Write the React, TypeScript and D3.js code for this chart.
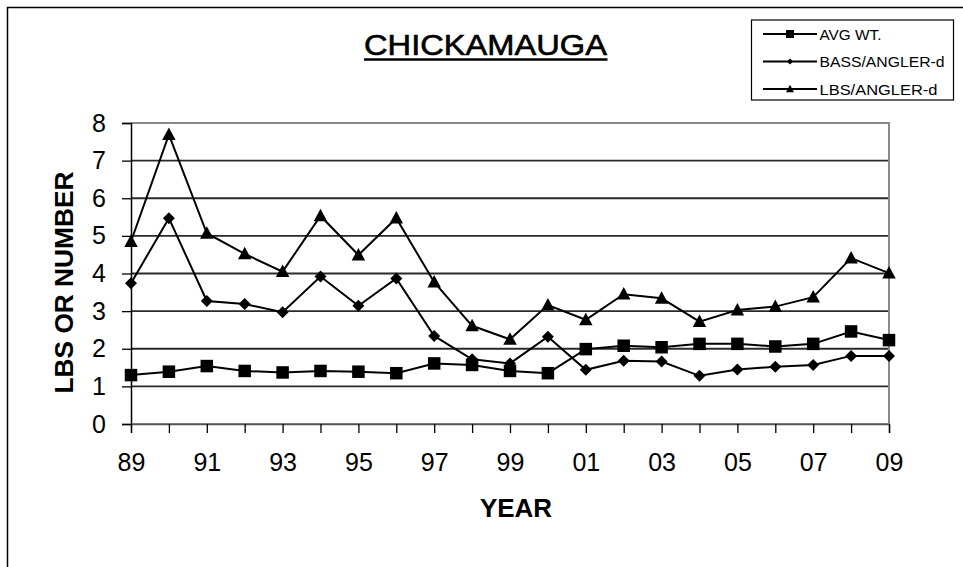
import React, { useEffect, useRef } from "react";
import * as d3 from "d3";

const years = ["89","90","91","92","93","94","95","96","97","98","99","00","01","02","03","04","05","06","07","08","09"];
const avgWt = [1.30,1.39,1.54,1.41,1.37,1.41,1.39,1.35,1.61,1.57,1.41,1.35,1.99,2.08,2.04,2.13,2.13,2.06,2.13,2.46,2.23];
const bassPerAngler = [3.74,5.47,3.27,3.19,2.97,3.92,3.14,3.87,2.34,1.72,1.61,2.32,1.44,1.68,1.66,1.28,1.45,1.52,1.57,1.81,1.81];
const lbsPerAngler = [4.85,7.69,5.07,4.52,4.05,5.53,4.49,5.47,3.77,2.61,2.25,3.16,2.77,3.45,3.34,2.72,3.03,3.12,3.37,4.41,4.01];
const yTicks = [0,1,2,3,4,5,6,7,8];
const xLabelYears = ["89","91","93","95","97","99","01","03","05","07","09"];
const seriesNames = ["AVG WT.", "BASS/ANGLER-d", "LBS/ANGLER-d"];
const seriesMarkers = ["square", "diamond", "triangle"];

const W = 963, H = 567;
const M = { left: 131, right: 889, top: 123, bottom: 424 };

export default function App() {
  const ref = useRef<SVGSVGElement>(null);
  useEffect(() => {
    const svg = d3.select(ref.current);
    svg.selectAll("*").remove();
    const font = "Arial, 'Liberation Sans', sans-serif";

    const x = d3.scalePoint<string>().domain(years).range([M.left, M.right]);
    const y = d3.scaleLinear().domain([0, 8]).range([M.bottom, M.top]);

    svg.append("rect").attr("width", W).attr("height", H).attr("fill", "#fff");
    svg.append("path").attr("d", `M7.5,${H} V7.5 H${W}`).attr("fill", "none").attr("stroke", "#000").attr("stroke-width", 1.5);

    svg.append("text").attr("x", 485.5).attr("y", 55).attr("text-anchor", "middle")
      .attr("font-family", font).attr("font-size", 29).attr("fill", "#000")
      .attr("stroke", "#000").attr("stroke-width", 0.6)
      .attr("textLength", 243).attr("lengthAdjust", "spacingAndGlyphs").text("CHICKAMAUGA");
    svg.append("line").attr("x1", 364).attr("x2", 607.5).attr("y1", 59.5).attr("y2", 59.5)
      .attr("stroke", "#000").attr("stroke-width", 2.5);

    yTicks.filter(t => t > 0 && t < 8).forEach(t => {
      svg.append("line").attr("x1", M.left).attr("x2", M.right).attr("y1", y(t)).attr("y2", y(t))
        .attr("stroke", "#2a2a2a").attr("stroke-width", 1.8);
    });
    svg.append("path").attr("d", `M${M.left},${y(8)} H${M.right} V${y(0)} H${M.left}`)
      .attr("fill", "none").attr("stroke", "#8a8a8a").attr("stroke-width", 2);

    const yAxis = d3.axisLeft(y).tickValues(yTicks).tickSize(9).tickPadding(16).tickFormat(d3.format("d"));
    const gy = svg.append("g").attr("transform", `translate(${M.left},0)`).call(yAxis);
    gy.select(".domain").attr("stroke", "#000").attr("stroke-width", 1.5);
    gy.selectAll(".tick line").attr("stroke", "#000").attr("stroke-width", 1.3);
    gy.selectAll(".tick text").attr("font-family", font).attr("font-size", 25).attr("fill", "#000");

    const xAxis = d3.axisBottom(x).tickSize(9).tickPadding(20)
      .tickFormat(d => (xLabelYears.includes(d) ? d : ""));
    const gx = svg.append("g").attr("transform", `translate(0,${M.bottom})`).call(xAxis);
    gx.select(".domain").attr("stroke", "#555").attr("stroke-width", 1.5);
    gx.selectAll(".tick line").attr("stroke", "#000").attr("stroke-width", 1.3);
    gx.selectAll(".tick text").attr("font-family", font).attr("font-size", 25).attr("fill", "#000");

    svg.append("text").attr("x", 516).attr("y", 517).attr("text-anchor", "middle")
      .attr("font-family", font).attr("font-weight", "bold").attr("font-size", 26).attr("fill", "#000").text("YEAR");
    svg.append("text").attr("transform", `translate(73,282.5) rotate(-90)`).attr("text-anchor", "middle")
      .attr("font-family", font).attr("font-weight", "bold").attr("font-size", 25).attr("fill", "#000")
      .attr("textLength", 222).attr("lengthAdjust", "spacingAndGlyphs").text("LBS OR NUMBER");

    const drawMarker = (g: any, kind: string, cx: number, cy: number, s: number) => {
      if (kind === "square") {
        g.append("rect").attr("x", cx - s / 2).attr("y", cy - s / 2).attr("width", s).attr("height", s).attr("fill", "#000");
      } else if (kind === "diamond") {
        const r = s / 2;
        g.append("path").attr("d", `M${cx},${cy - r} L${cx + r},${cy} L${cx},${cy + r} L${cx - r},${cy} Z`).attr("fill", "#000");
      } else {
        const r = s / 2;
        g.append("path").attr("d", `M${cx},${cy - r * 1.05} L${cx + r},${cy + r * 0.8} L${cx - r},${cy + r * 0.8} Z`).attr("fill", "#000");
      }
    };

    const allSeries = [avgWt, bassPerAngler, lbsPerAngler];
    const sizes = [12.5, 12, 13.5];
    const line = d3.line<number>().x((_, i) => x(years[i])!).y(d => y(d));
    allSeries.forEach((vals) => {
      svg.append("path").attr("d", line(vals)!).attr("fill", "none").attr("stroke", "#000").attr("stroke-width", 2);
    });
    allSeries.forEach((vals, si) => {
      const g = svg.append("g");
      vals.forEach((v, i) => drawMarker(g, seriesMarkers[si], x(years[i])!, y(v), sizes[si]));
    });

    svg.append("rect").attr("x", 751.5).attr("y", 20).attr("width", 202).attr("height", 80)
      .attr("fill", "#fff").attr("stroke", "#000").attr("stroke-width", 1.2);
    const legendSizes = [8, 6, 8];
    const legendWidths = [62, 125, 118];
    seriesNames.forEach((name, i) => {
      const cy = 34 + i * 27.5;
      svg.append("line").attr("x1", 763).attr("x2", 817).attr("y1", cy).attr("y2", cy).attr("stroke", "#000").attr("stroke-width", 2);
      drawMarker(svg, seriesMarkers[i], 790, cy, legendSizes[i]);
      svg.append("text").attr("x", 819.5).attr("y", cy + 5.5).attr("font-family", font).attr("font-size", 15)
        .attr("fill", "#000").attr("textLength", legendWidths[i]).attr("lengthAdjust", "spacingAndGlyphs").text(name);
    });
  }, []);
  return <svg ref={ref} width={W} height={H} style={{ position: "absolute", left: 0, top: 0 }} />;
}
